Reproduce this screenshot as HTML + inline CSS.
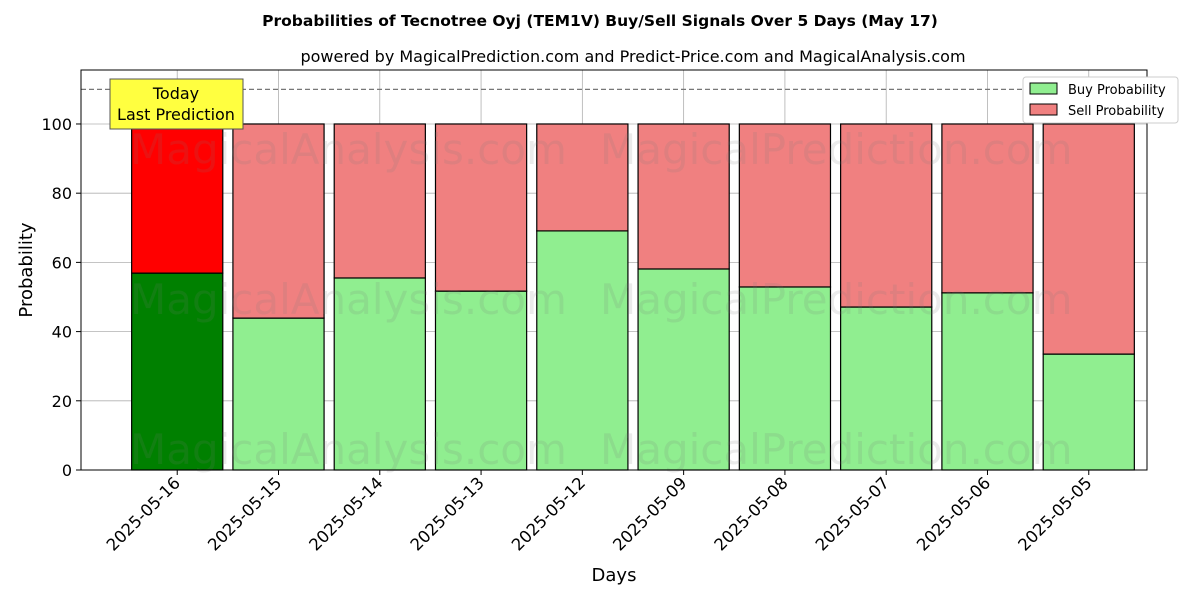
<!DOCTYPE html>
<html><head><meta charset="utf-8"><style>
body{margin:0;background:#fff;font-family:"DejaVu Sans","Liberation Sans",sans-serif}
</style></head><body>
<svg id="c" width="1200" height="600" xmlns="http://www.w3.org/2000/svg">
<text x="600" y="26" text-anchor="middle" font-size="15.5" font-weight="bold">Probabilities of Tecnotree Oyj (TEM1V) Buy/Sell Signals Over 5 Days (May 17)</text>
<text x="633" y="62" text-anchor="middle" font-size="16">powered by MagicalPrediction.com and Predict-Price.com and MagicalAnalysis.com</text>
<g id="grid"></g><g id="bars"></g><g id="wm" font-size="42" fill="rgba(120,120,120,0.15)"></g>
<g id="axes"></g>
</svg>
<script>
const categories=["2025-05-16","2025-05-15","2025-05-14","2025-05-13","2025-05-12","2025-05-09","2025-05-08","2025-05-07","2025-05-06","2025-05-05"];
const buyValues=[56.9,43.9,55.5,51.7,69.1,58.1,52.9,47.1,51.2,33.5];
const yTicks=[0,20,40,60,80,100];
const L=81,R=1147,T=70,B=470;
const NS="http://www.w3.org/2000/svg";
const x=i=>L+(i+0.95)/(10.525)*(R-L);
const y=v=>B-v/115.6*(B-T);
const bw=0.9/10.525*(R-L);
function mk(p,t,a){const e=document.createElementNS(NS,t);for(const k in a)e.setAttribute(k,a[k]);p.appendChild(e);return e;}
const svg=document.getElementById('c'),grid=document.getElementById('grid'),bars=document.getElementById('bars'),axes=document.getElementById('axes'),wm=document.getElementById('wm');
yTicks.forEach(v=>{const g=mk(grid,'line',{x1:L,x2:R,y1:y(v),y2:y(v),stroke:'#b0b0b0','stroke-width':0.8});

const l=mk(axes,'line',{x1:L-5,x2:L,y1:y(v),y2:y(v),stroke:'#000'});
const t=mk(axes,'text',{x:L-9,y:y(v)+6,'text-anchor':'end','font-size':16});t.textContent=v;});
categories.forEach((c,i)=>{const cx=x(i);
const g=mk(grid,'line',{x1:cx,x2:cx,y1:T,y2:B,stroke:'#b0b0b0','stroke-width':0.8});
const b=buyValues[i];
const r1=mk(bars,'rect',{x:cx-bw/2,y:y(b),width:bw,height:y(0)-y(b),fill:i==0?'#008000':'#90ee90',stroke:'#000','stroke-width':1.2});

const r2=mk(bars,'rect',{x:cx-bw/2,y:y(100),width:bw,height:y(b)-y(100),fill:i==0?'#ff0000':'#f08080',stroke:'#000','stroke-width':1.2});

const tk=mk(axes,'line',{x1:cx,x2:cx,y1:B,y2:B+5,stroke:'#000'});
const t=mk(axes,'text',{x:cx+4,y:B+14,'text-anchor':'end','font-size':16.5,transform:`rotate(-45 ${cx+4} ${B+14})`});t.textContent=c;});
[[130,150,"MagicalAnalysis.com"],[600,150,"MagicalPrediction.com"],[130,300,"MagicalAnalysis.com"],[600,300,"MagicalPrediction.com"],[130,450,"MagicalAnalysis.com"],[600,450,"MagicalPrediction.com"]].forEach(w=>{const t=mk(wm,'text',{x:w[0],y:w[1]+14});t.textContent=w[2];});
const d=mk(axes,'line',{x1:L,x2:R,y1:y(110),y2:y(110),stroke:'#777','stroke-dasharray':'5,3','stroke-width':1.2});
const f=mk(axes,'rect',{x:L,y:T,width:R-L,height:B-T,fill:'none',stroke:'#000','stroke-width':1});
const tb=mk(axes,'rect',{x:110,y:79,width:133,height:50,fill:'#ffff40',stroke:'#555'});
[["Today",99],["Last Prediction",120]].forEach(a=>{const t=mk(axes,'text',{x:176,y:a[1],'text-anchor':'middle','font-size':16});t.textContent=a[0];});
const yt=mk(axes,'text',{x:32,y:270,'text-anchor':'middle','font-size':18,transform:'rotate(-90 32 270)'});yt.textContent='Probability';
const xt=mk(axes,'text',{x:614,y:581,'text-anchor':'middle','font-size':18});xt.textContent='Days';
const lg=mk(axes,'rect',{x:1023,y:77,width:155,height:46,fill:'#fff',stroke:'#ccc',rx:3});
[["Buy Probability","#90ee90",83],["Sell Probability","#f08080",104]].forEach(e=>{const r=mk(axes,'rect',{x:1030,y:e[2],width:27,height:11,fill:e[1],stroke:'#000'});
const t=mk(axes,'text',{x:1068,y:e[2]+11,'font-size':13});t.textContent=e[0];});
</script>
</body></html>
